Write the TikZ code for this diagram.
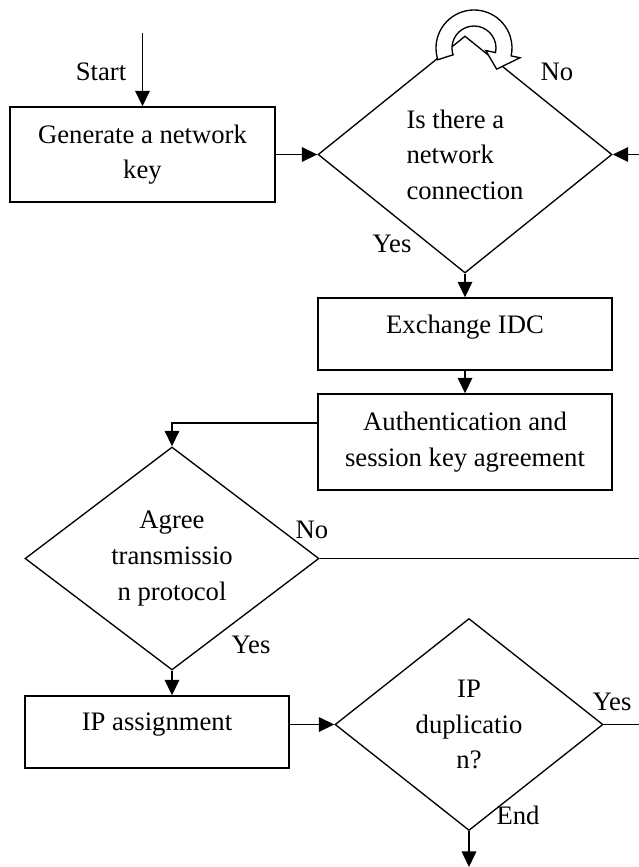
\documentclass[tikz,border=0pt]{standalone}
\usepackage{fontspec}
\setmainfont{Liberation Serif}
\usetikzlibrary{shapes.geometric,arrows.meta}

\begin{document}
\begin{tikzpicture}[x=0.45pt,y=-0.45pt,
                    font=\fontsize{12}{16}\selectfont,
                    line width=0.6pt,
                    box node/.style={rectangle,draw,fill=white,align=center,inner sep=0pt},
                    test node/.style={diamond,draw,fill=white,align=center,inner sep=0pt},
                    high text/.style={text depth=9pt},
                    flow/.style={line width=0.85pt,-{Triangle[length=7pt,width=6.5pt]}},
                    loop arrow/.style={draw,fill=white,line width=0.6pt,line join=miter}]

        \clip (0,0) rectangle (639,867);

        % Define vertices
        \node[box node,minimum width=119.25pt,minimum height=42.75pt] (gen) at (142.5,154.5) {Generate a network\\key};
        \node[test node,align=left,minimum width=132.3pt,minimum height=106.65pt] (q1) at (465,154.5) {Is there a\\network\\connection};
        \node[box node,high text,minimum width=132.3pt,minimum height=32.4pt] (idc) at (465,334) {Exchange IDC};
        \node[box node,minimum width=132.3pt,minimum height=43.2pt] (auth) at (465,442) {Authentication and\\session key agreement};
        \node[test node,minimum width=132.3pt,minimum height=100.35pt] (q2) at (172,558.5) {Agree\\transmissio\\n protocol};
        \node[box node,high text,minimum width=118.8pt,minimum height=32.4pt] (ipa) at (157,732) {IP assignment};
        \node[test node,minimum width=120.6pt,minimum height=95.4pt] (q3) at (469,724.5) {IP\\duplicatio\\n?};

        \coordinate (start) at (142.5,33);
        \coordinate (bend) at (172,423);
        \coordinate (back) at (650,0);
        \coordinate (end) at (469,867);

        % Labels
        \node (lstart) at (101,72) {Start};
        \node (lno1) at (557,72) {No};
        \node (lyes1) at (392,244) {Yes};
        \node (lno2) at (312,530) {No};
        \node (lyes2) at (251,645) {Yes};
        \node (lyes3) at (612,702) {Yes};
        \node (lend) at (518,815) {End};

        % Draw edges
        \draw[flow] (start) -- (gen.north);
        \draw[flow] (gen.east) -- (q1.west);
        \draw[flow] (q1.south) -- (idc.north);
        \draw[flow] (idc.south) -- (auth.north);
        \draw[flow] (auth.west |- bend) -- (bend) -- (q2.north);
        \draw[flow] (q2.south) -- (q2.south |- ipa.north);
        \draw[flow] (ipa.east |- q3.west) -- (q3.west);
        \draw[flow] (q3.south) -- (end);
        \draw (q2.east) -- (q2.east -| back);
        \draw[flow] (q3.east) -- (q3.east -| back) -- (back |- q1.east) -- (q1.east);

        % Loop over the top corner
        \begin{scope}[shift={(474,48)},yscale=-1]
            \path[loop arrow] (198:38) arc[start angle=198,end angle=-12,radius=38]
                -- (-12:47) -- (-43:31) -- (-12:12) -- (-12:22)
                arc[start angle=-12,end angle=198,radius=22] -- cycle;
        \end{scope}

\end{tikzpicture}
\end{document}
